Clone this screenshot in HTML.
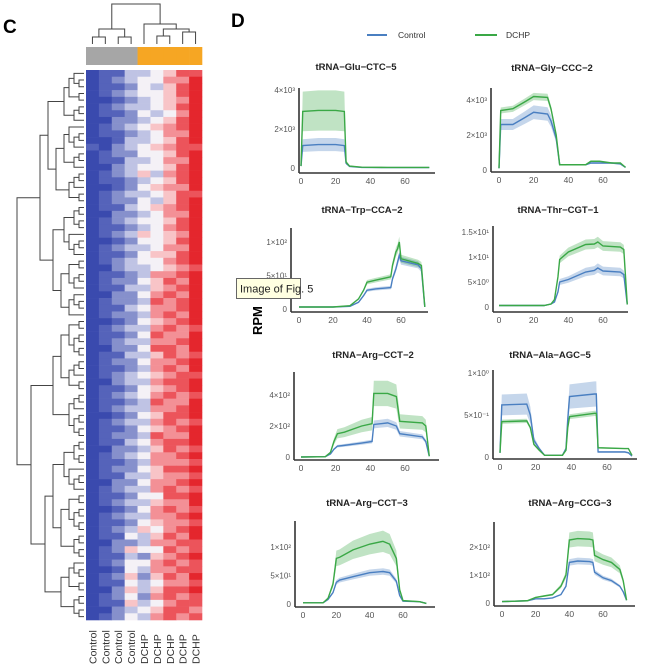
<!DOCTYPE html>
<html><head><meta charset="utf-8"><style>
html,body{margin:0;padding:0;background:#fff;}
svg{display:block;font-family:"Liberation Sans",sans-serif;}
</style></head><body>
<svg id="fig" width="652" height="666" viewBox="0 0 652 666">
<text x="3" y="33" font-size="19" font-weight="bold">C</text>
<text x="231" y="27" font-size="19" font-weight="bold">D</text>
<g id="heat"></g>
<g id="lines"></g>
<g>
<line x1="367" y1="35" x2="387" y2="35" stroke="#4a7fc1" stroke-width="2"/>
<text x="398" y="38" font-size="8.5" fill="#333">Control</text>
<line x1="475" y1="35" x2="497" y2="35" stroke="#3aa846" stroke-width="2"/>
<text x="506" y="38" font-size="8.5" fill="#333">DCHP</text>
</g>
<text x="0" y="0" font-size="13" font-weight="bold" transform="translate(262,335) rotate(-90)">RPM</text>
</svg>
<script>
const heatCols = ["Control","Control","Control","Control","DCHP","DCHP","DCHP","DCHP","DCHP"];
const heatRows = ["011334577","012344668","011243578","012344578","001234568","012334578","011243468","002234578","012345678","011234668","001334578","102345677","012244578","011334668","002344578","012353678","011234578","001245668","012334577","012243578","011345678","002234668","012344578","011234678","012354568","001244578","012334668","011245578","012344678","002334567","011236678","012245768","011335678","002246768","012237678","011346678","012236768","001245678","012336767","011247668","012336678","002247768","011335767","012246678","011236768","012345677","002336778","011245678","012346767","011237668","012336678","001245778","012336767","011245678","012237668","011346778","002235767","012346678","011236667","012245778","011335667","002246678","012336767","011244778","012335668","001246767","012336678","011245667","012354678","011435768","002236677","012544767","011325678","012446767","001436677","012525768","011434667","002535778","012426767","011534677","002345776","012436767"];
const heatPalette = ["#3a4aae","#5563ba","#8690cc","#bfc3e4","#f4f1f6","#f8c4c7","#f39096","#ec545b","#e4262d"];

const gluX=[0,1,10,20,25,26,28,35,50,74];
const gluCtrl=[100,1150,1200,1200,1150,250,80,30,20,20];
const gluDchp=[100,2900,2950,2950,2900,300,100,40,30,30];
const glyX=[0,1,8,15,20,28,30,33,35,40,50,53,58,65,70,73];
const glyCtrl=[100,2600,2600,3000,3300,3200,2800,1800,300,300,300,400,400,400,350,150];
const glyDchp=[100,3400,3500,3900,4200,4150,3500,2000,300,300,300,500,500,400,400,150];
const trpX=[0,20,30,35,38,40,45,54,55,57,58,59,60,70,72,74];
const trpCtrl=[3,3,4,10,20,28,30,32,45,60,70,80,72,66,60,3];
const trpDchp=[3,3,5,15,28,40,43,48,65,85,90,100,75,68,65,3];
const thrX=[0,26,30,32,34,35,40,50,55,57,60,70,72,74];
const thrCtrl=[0.3,0.3,0.6,1,3,5,5.5,7,7.3,7.8,7.2,7,6.5,0.5];
const thrDchp=[0.3,0.3,0.6,1.5,6,9.5,11,12.5,12.6,13,12.2,12,11.5,0.5];
const cct2X=[0,14,17,19,21,25,35,41,42,50,55,57,70,72,74];
const cct2Ctrl=[0,2,20,50,70,75,90,100,210,220,200,150,130,100,5];
const cct2Dchp=[0,2,30,100,150,160,200,215,410,410,390,230,220,200,5];
const alaX=[0,1,15,17,19,22,25,35,37,38,39,53,54,55,70,72,74];
const alaCtrl=[0.05,0.62,0.63,0.5,0.2,0.1,0.02,0.02,0.1,0.45,0.72,0.75,0.75,0.06,0.06,0.05,0.01];
const alaDchp=[0.05,0.42,0.43,0.35,0.15,0.08,0.02,0.02,0.08,0.35,0.48,0.52,0.52,0.11,0.1,0.1,0.02];
const cct3X=[0,12,15,18,20,22,30,40,48,52,56,58,60,70,74];
const cct3Ctrl=[2,2,8,20,38,42,48,55,57,55,40,15,5,4,1];
const cct3Dchp=[2,2,10,35,80,82,95,105,110,105,80,25,6,4,1];
const ccgX=[0,15,20,25,30,35,38,40,45,52,54,55,60,65,70,72,74];
const ccgCtrl=[5,8,15,15,18,30,60,145,150,148,145,110,90,80,60,40,10];
const ccgDchp=[5,8,20,25,30,60,100,225,230,228,225,170,155,145,120,80,10];
const ctrlErr=[0.28,0.12,0.08,0.12,0.12,0.2,0.1,0.08];
const dchpErr=[0.35,0.05,0.08,0.08,0.2,0.06,0.17,0.12];
const xTickVals=[0,20,40,60];
const panelTitles=["tRNA\u2212Glu\u2212CTC\u22125","tRNA\u2212Gly\u2212CCC\u22122","tRNA\u2212Trp\u2212CCA\u22122","tRNA\u2212Thr\u2212CGT\u22121","tRNA\u2212Arg\u2212CCT\u22122","tRNA\u2212Ala\u2212AGC\u22125","tRNA\u2212Arg\u2212CCT\u22123","tRNA\u2212Arg\u2212CCG\u22123"];
const yTickVals=[[0,2000,4000],[0,2000,4000],[0,50,100],[0,5,10,15],[0,200,400],[0,0.5,1],[0,50,100],[0,100,200]];
const yTickLabels=[["0","2\u00d710\u00b3","4\u00d710\u00b3"],["0","2\u00d710\u00b3","4\u00d710\u00b3"],["0","5\u00d710\u00b9","1\u00d710\u00b2"],["0","5\u00d710\u2070","1\u00d710\u00b9","1.5\u00d710\u00b9"],["0","2\u00d710\u00b2","4\u00d710\u00b2"],["0","5\u00d710\u207b\u00b9","1\u00d710\u2070"],["0","5\u00d710\u00b9","1\u00d710\u00b2"],["0","1\u00d710\u00b2","2\u00d710\u00b2"]];
const seriesX=[gluX,glyX,trpX,thrX,cct2X,alaX,cct3X,ccgX];
const seriesCtrl=[gluCtrl,glyCtrl,trpCtrl,thrCtrl,cct2Ctrl,alaCtrl,cct3Ctrl,ccgCtrl];
const seriesDchp=[gluDchp,glyDchp,trpDchp,thrDchp,cct2Dchp,alaDchp,cct3Dchp,ccgDchp];

const L=[
 {ax:299,x0:301,x60:405,y0:168,yr:129,rv:2000,top:88,xa:173,xe:435,tx:356,ty:70},
 {ax:491,x0:499,x60:603,y0:170,yr:135,rv:2000,top:88,xa:172,xe:630,tx:552,ty:71},
 {ax:291,x0:299,x60:401,y0:309,yr:242,rv:100,top:228,xa:312,xe:428,tx:362,ty:213},
 {ax:493,x0:499,x60:603,y0:307,yr:257,rv:10,top:226,xa:312,xe:628,tx:558,ty:213},
 {ax:294,x0:301,x60:405,y0:457,yr:395,rv:400,top:372,xa:460,xe:439,tx:373,ty:358},
 {ax:493,x0:500,x60:607,y0:457,yr:373,rv:1,top:370,xa:459,xe:637,tx:550,ty:358},
 {ax:295,x0:303,x60:403,y0:604,yr:547,rv:100,top:521,xa:607,xe:435,tx:367,ty:506},
 {ax:494,x0:502,x60:603,y0:603,yr:547,rv:200,top:522,xa:606,xe:635,tx:570,ty:506}
];
const NS="http://www.w3.org/2000/svg";
function mk(tag,attrs,parent){const e=document.createElementNS(NS,tag);for(const k in attrs)e.setAttribute(k,attrs[k]);parent.appendChild(e);return e;}

const heat=document.getElementById('heat');
const hx0=86,hx1=202,hy0=70,hy1=620;
const cw=(hx1-hx0)/heatCols.length, rh=(hy1-hy0)/heatRows.length;
heatRows.forEach((row,r)=>{for(let c=0;c<heatCols.length;c++){
 const v=parseInt(row[c]);
 const rc=mk('rect',{x:hx0+c*cw,y:hy0+r*rh,width:cw+0.3,height:rh+0.3,fill:heatPalette[v]},heat);
 
 
}});
heatCols.forEach((name,c)=>{
 const a=mk('rect',{x:hx0+c*cw,y:47,width:cw+0.3,height:18,fill:name==="Control"?"#a6a6a6":"#f6a623"},heat);
 
 
 const t=mk('text',{transform:`translate(${hx0+c*cw+cw/2+4},664) rotate(-90)`,'font-size':'10.5',fill:'#333'},heat);
 t.textContent=name;
 
 
});
const cx=c=>hx0+c*cw+cw/2;
const dg=mk('g',{stroke:'#444','stroke-width':'1',fill:'none'},heat);


function U(xa,ya,xb,yb,yt){mk('path',{d:`M${xa},${ya}V${yt}H${xb}V${yb}`},dg);}
U(cx(0),44,cx(1),44,37);U(cx(2),44,cx(3),44,37);
U((cx(0)+cx(1))/2,37,(cx(2)+cx(3))/2,37,29);
U(cx(5),44,cx(6),44,36);U(cx(7),44,cx(8),44,32);
U((cx(5)+cx(6))/2,36,(cx(7)+cx(8))/2,32,29);
const am=((cx(5)+cx(6))/2+(cx(7)+cx(8))/2)/2;
U(cx(4),44,am,29,24);
U(((cx(0)+cx(1))/2+(cx(2)+cx(3))/2)/2,29,(cx(4)+am)/2,24,4);
const rg=mk('g',{stroke:'#444','stroke-width':'1',fill:'none'},heat);


const splits=[0.45,0.55,0.4,0.6,0.5,0.35,0.65];
let si=0;
function tree(a,b){
 const n=b-a;
 if(n===1) return {y:hy0+(a+0.5)*rh,x:84};
 const f=splits[(si++)%splits.length];
 let m=a+Math.max(1,Math.min(n-1,Math.round(n*f)));
 const l=tree(a,m), r=tree(m,b);
 const x=Math.min(l.x,r.x)-(n>40?14:n>8?8:5);
 mk('path',{d:`M${l.x},${l.y}H${x}V${r.y}H${r.x}`},rg);
 return {y:(l.y+r.y)/2,x:x};
}
tree(0,heatRows.length);

const lines=document.getElementById('lines');
L.forEach((p,i)=>{
 const g=mk('g',{},lines);
 
 
 const sx=v=>p.x0+(p.x60-p.x0)*v/60;
 const sy=v=>p.y0-(p.y0-p.yr)*v/p.rv;
 const t=mk('text',{x:p.tx,y:p.ty,'text-anchor':'middle','font-size':'9.5','font-weight':'bold',fill:'#222'},g);
 t.textContent=panelTitles[i];
 
 
 const xs=seriesX[i];
 [[seriesCtrl[i],ctrlErr[i],'74,127,193','control'],[seriesDchp[i],dchpErr[i],'60,168,70','dchp']].forEach(([ys,err,rgb,nm])=>{
  let up=xs.map((x,k)=>`${sx(x)},${sy(ys[k]*(1+err))}`);
  let dn=xs.map((x,k)=>`${sx(x)},${sy(ys[k]*(1-err))}`).reverse();
  const band=mk('polygon',{points:up.concat(dn).join(' '),fill:`rgba(${rgb},0.32)`,stroke:'none'},g);
  
  
 });
 [[seriesCtrl[i],'#4a7fc1','control'],[seriesDchp[i],'#3aa846','dchp']].forEach(([ys,col,nm])=>{
  const ln=mk('polyline',{points:xs.map((x,k)=>`${sx(x)},${sy(ys[k])}`).join(' '),fill:'none',stroke:col,'stroke-width':'1.4'},g);
  
  
 });
 const ya=mk('line',{x1:p.ax,y1:p.top,x2:p.ax,y2:p.xa,stroke:'#333','stroke-width':'1.6'},g);
 
 
 const xa=mk('line',{x1:p.ax,y1:p.xa,x2:p.xe,y2:p.xa,stroke:'#333','stroke-width':'1.6'},g);
 
 
 xTickVals.forEach(v=>{
  const tt=mk('text',{x:sx(v),y:p.xa+11,'text-anchor':'middle','font-size':'8.5',fill:'#555'},g);
  tt.textContent=String(v);
  
  
 });
 yTickVals[i].forEach((v,k)=>{
  const tt=mk('text',{x:p.ax-4,y:sy(v)+3,'text-anchor':'end','font-size':'8',fill:'#555'},g);
  tt.textContent=yTickLabels[i][k];
  
  
 });
});
const svg=document.getElementById('fig');
const tg=mk('g',{},svg);


mk('rect',{x:236.5,y:278.5,width:64,height:20,fill:'#ffffe1',stroke:'#666','stroke-width':'1'},tg);
const tt=mk('text',{x:240,y:292.5,'font-size':'11',fill:'#222'},tg);
tt.textContent="Image of Fig. 5";
</script>
</body></html>
